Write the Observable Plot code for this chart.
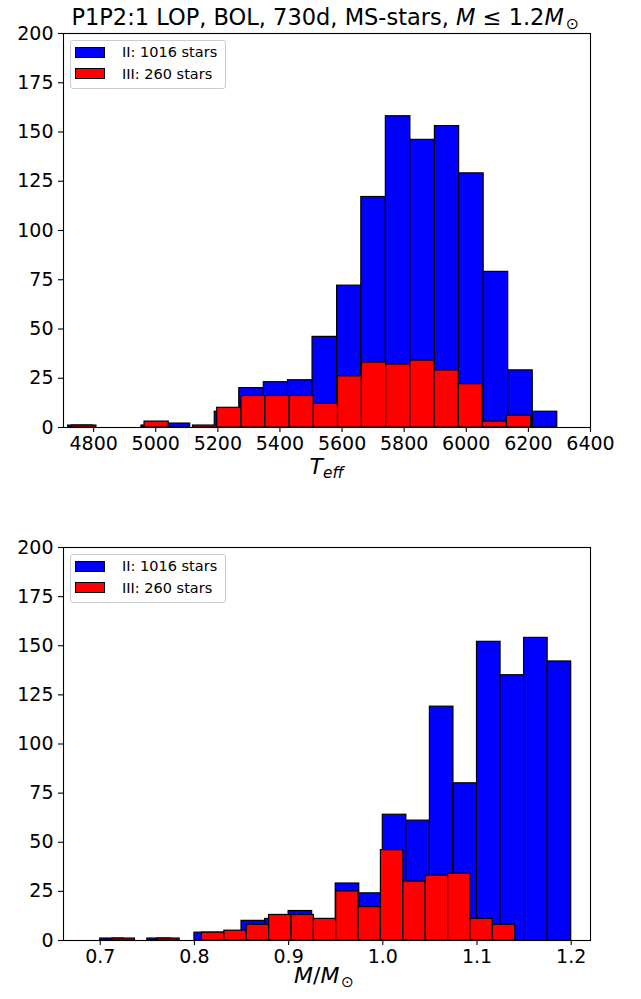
<!DOCTYPE html>
<html>
<head>
<meta charset="utf-8">
<script src="https://cdn.jsdelivr.net/npm/d3@7"></script>
<script src="https://cdn.jsdelivr.net/npm/@observablehq/plot@0.6"></script>
<style>
  html, body { margin: 0; padding: 0; background: #fff; }
  #fig { position: relative; width: 641px; height: 999px; font-family: "DejaVu Sans", sans-serif; color: #000; }
  #fig svg { position: absolute; left: 0; }
  .txt { position: absolute; white-space: nowrap; line-height: 1; transform: translateX(-50%); }
  .txt sub { font-size: 70%; vertical-align: -0.25em; line-height: 0; }
  .legend { position: absolute; border: 1px solid #cccccc; border-radius: 3px; background: rgba(255,255,255,0.8); box-sizing: border-box; }
  .swatch { position: absolute; width: 30px; height: 11px; border: 1px solid #000; box-sizing: border-box; }
  .ltext { position: absolute; font-size: 14.5px; line-height: 1; white-space: nowrap; }
</style>
</head>
<body>
<div id="fig"></div>
<script>
// Effective temperature histograms: bin edges (K) and counts per bin
const teffEdgesII  = [4718, 4797, 4875, 4954, 5033, 5111, 5190, 5269, 5348, 5426, 5505, 5584, 5662, 5741, 5820, 5899, 5977, 6056, 6135, 6214, 6293];
const teffCountsII = [1, 0, 0, 1, 2, 0, 8, 20, 23, 24, 46, 72, 117, 158, 146, 153, 129, 79, 29, 8];
const teffEdgesIII  = [4731, 4809, 4887, 4964, 5042, 5120, 5198, 5276, 5353, 5431, 5509, 5587, 5664, 5742, 5820, 5898, 5976, 6053, 6131, 6209];
const teffCountsIII = [1, 0, 0, 3, 0, 1, 10, 16, 16, 16, 12, 26, 33, 32, 34, 29, 22, 3, 6];

// Mass histograms: bin edges (M/Msun) and counts per bin
const massEdgesII  = [0.700, 0.725, 0.750, 0.775, 0.800, 0.825, 0.850, 0.875, 0.900, 0.925, 0.950, 0.975, 1.000, 1.025, 1.050, 1.075, 1.100, 1.125, 1.150, 1.175, 1.200];
const massCountsII = [1, 0, 1, 0, 4, 4, 10, 11, 15, 10, 29, 24, 64, 61, 119, 80, 152, 135, 154, 142];
const massEdgesIII  = [0.7130, 0.7368, 0.7605, 0.7843, 0.8080, 0.8318, 0.8555, 0.8793, 0.9030, 0.9268, 0.9505, 0.9743, 0.9980, 1.0218, 1.0455, 1.0693, 1.0930, 1.1168, 1.1405];
const massCountsIII = [1, 0, 1, 0, 4, 5, 8, 13, 13, 11, 25, 17, 46, 30, 33, 34, 11, 8];

// Axis ticks
const teffTicks = [4800, 5000, 5200, 5400, 5600, 5800, 6000, 6200, 6400];
const massTicks = [0.7, 0.8, 0.9, 1.0, 1.1, 1.2];
const countTicks = [0, 25, 50, 75, 100, 125, 150, 175, 200];

const seriesNames = ["II", "III"];
const seriesColors = ["#0000ff", "#ff0000"];

const toBins = (edges, counts) =>
  counts.map((c, i) => ({x1: edges[i], x2: edges[i + 1], count: c})).filter(d => d.count > 0);

const fig = document.getElementById("fig");

function histogram({binsII, binsIII, xDomain, xTicks, xFormat, top, height, frameTop, frameBottom}) {
  const svg = Plot.plot({
    width: 641,
    height,
    marginLeft: 63,
    marginRight: 51,
    marginTop: frameTop - top,
    marginBottom: top + height - frameBottom,
    style: {fontFamily: "DejaVu Sans, sans-serif", fontSize: "19px", color: "#000", background: "transparent"},
    x: {domain: xDomain, label: null},
    y: {domain: [0, 200], label: null},
    marks: [
      Plot.rect(binsII, {x1: "x1", x2: "x2", y1: () => 0, y2: "count", fill: seriesColors[0], stroke: "#000", strokeWidth: 1.2}),
      Plot.rect(binsIII, {x1: "x1", x2: "x2", y1: () => 0, y2: "count", fill: seriesColors[1], stroke: "#000", strokeWidth: 1.2}),
      Plot.frame({stroke: "#000", strokeWidth: 1.1}),
      Plot.axisX({ticks: xTicks, tickFormat: xFormat, tickSize: 5, tickPadding: 4, strokeWidth: 1.1, label: null, fontSize: 19}),
      Plot.axisY({ticks: countTicks, tickSize: 5, tickPadding: 5, strokeWidth: 1.1, label: null, fontSize: 19})
    ]
  });
  svg.style.top = top + "px";
  fig.appendChild(svg);

  // Legend box in the upper-left corner of the axes
  const legend = document.createElement("div");
  legend.className = "legend";
  legend.style.left = "70px";
  legend.style.top = (frameTop + 7) + "px";
  legend.style.width = "156px";
  legend.style.height = "49px";
  fig.appendChild(legend);
  const totals = [d3.sum(binsII, d => d.count), d3.sum(binsIII, d => d.count)];
  [13.5, 35].forEach((dy, i) => {
    const sw = document.createElement("div");
    sw.className = "swatch";
    sw.style.background = seriesColors[i];
    sw.style.left = "75px";
    sw.style.top = (frameTop + dy) + "px";
    fig.appendChild(sw);
    const t = document.createElement("div");
    t.className = "ltext";
    t.textContent = `${seriesNames[i]}: ${totals[i]} stars`;
    t.style.left = "122px";
    t.style.top = (frameTop + dy - 1.5) + "px";
    fig.appendChild(t);
  });
}

function addText(html, cx, top, size) {
  const d = document.createElement("div");
  d.className = "txt";
  d.innerHTML = html;
  d.style.left = cx + "px";
  d.style.top = top + "px";
  d.style.fontSize = size + "px";
  fig.appendChild(d);
}

addText('P1P2:1 LOP, BOL, 730d, MS-stars, <i>M</i> ≤ 1.2<i>M</i><sub>&#8202;⊙</sub>', 325, 5.5, 22.5);

histogram({
  binsII: toBins(teffEdgesII, teffCountsII),
  binsIII: toBins(teffEdgesIII, teffCountsIII),
  xDomain: [4703, 6400],
  xTicks: teffTicks,
  xFormat: d => String(d),
  top: 0, height: 490, frameTop: 33, frameBottom: 427
});
addText('<i>T</i><sub><i>eff</i></sub>', 326.5, 455.5, 22);

histogram({
  binsII: toBins(massEdgesII, massCountsII),
  binsIII: toBins(massEdgesIII, massCountsIII),
  xDomain: [0.661, 1.2205],
  xTicks: massTicks,
  xFormat: d3.format(".1f"),
  top: 490, height: 509, frameTop: 547, frameBottom: 940
});
addText('<i>M</i>/<i>M</i><sub>&#8202;⊙</sub>', 324, 965, 22);
</script>
</body>
</html>
